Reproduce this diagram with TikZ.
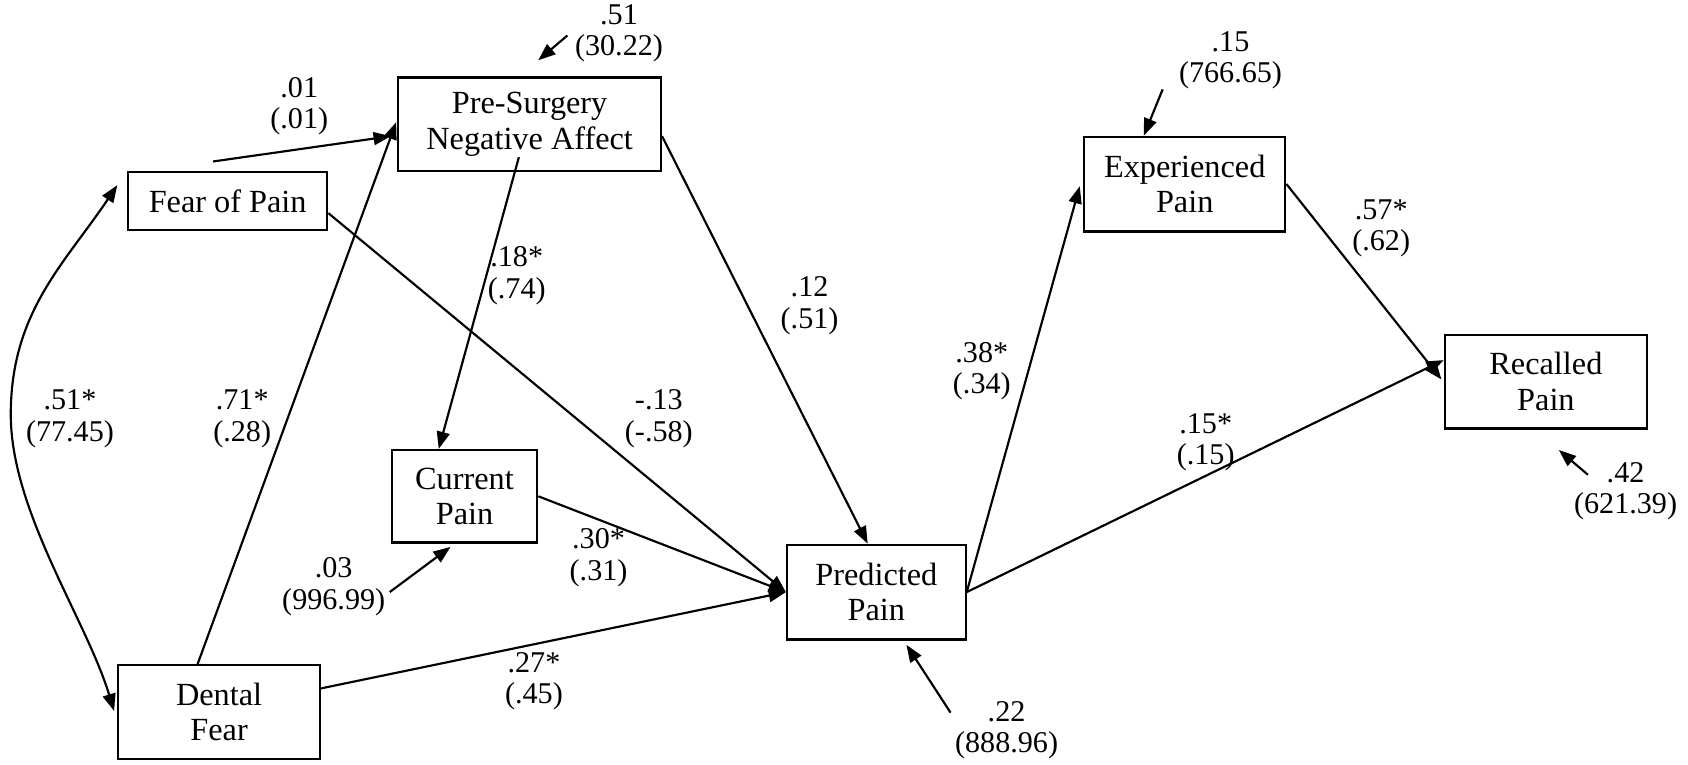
\documentclass[tikz,border=0pt]{standalone}
\usepackage{fontspec}
\setmainfont{Liberation Serif}
\usetikzlibrary{arrows.meta,calc}
\begin{document}
\begin{tikzpicture}[x=0.5pt,y=-0.5pt,
  box/.style={draw, line width=1pt, align=center, inner sep=0pt, font=\fontsize{15}{16.5}\selectfont},
  lab/.style={align=center, inner sep=0pt, font=\fontsize{14}{14.5}\selectfont},
  arr/.style={line width=1pt, -{Triangle[length=8pt,width=6pt]}},
  darr/.style={line width=1pt, {Triangle[length=8pt,width=6pt]}-{Triangle[length=8pt,width=6pt]}}]
\useasboundingbox (0,0) rectangle (1568,710);
% boxes
\node[box, minimum width=122pt, minimum height=43.5pt] (pre) at (492,115.5) {Pre-Surgery\\Negative Affect};
\node[box, minimum width=92.5pt, minimum height=27pt] (fear) at (211.5,187) {Fear of Pain};
\node[box, minimum width=67.5pt, minimum height=43pt] (cur) at (431.5,461) {Current\\Pain};
\node[box, minimum width=93.5pt, minimum height=43.5pt] (dental) at (203.5,661.5) {Dental\\Fear};
\node[box, minimum width=83pt, minimum height=44pt] (pred) at (814,550) {Predicted\\Pain};
\node[box, minimum width=93.5pt, minimum height=44pt] (exp) at (1100.5,171) {Experienced\\Pain};
\node[box, minimum width=94pt, minimum height=43.5pt] (rec) at (1436,354.5) {Recalled\\Pain};
% free coordinates
\coordinate (fstart) at (198,150);
\coordinate (e1s) at (527,33);
\coordinate (e1e) at (500,56);
\coordinate (e2s) at (362,550);
\coordinate (e3s) at (883,662);
\coordinate (e4s) at (1080,83);
\coordinate (e5s) at (1475,441);
\coordinate (e5e) at (1448,418);
\coordinate (cmid) at (10,385);
% path arrows
\draw[arr] (fstart) -- ($(pre.west)+(-6,11)$);
\draw[arr] ($(dental.north)+(-20,0)$) -- ($(pre.west)+(-1,-2)$);
\draw[arr] ($(pre.south)+(-10,-14)$) -- ($(cur.north)+(-24,0)$);
\draw[arr] ($(pre.east)+(0,11)$) -- ($(pred.north)+(-8,0)$);
\draw[arr] ($(fear.east)+(0,11)$) -- (pred.west);
\draw[arr] (cur.east) -- (pred.west);
\draw[arr] ($(dental.east)+(0,-22)$) -- (pred.west);
\draw[arr] (pred.east) -- ($(exp.west)+(-3,2)$);
\draw[arr] (pred.east) -- ($(rec.west)+(0,-20)$);
\draw[arr] (exp.east) -- ($(rec.west)+(-2,-2)$);
\draw[darr] ($(fear.west)+(-9,-15)$) .. controls (60,245) and (10,290) .. (cmid)
   .. controls (10,475) and (80,575) .. ($(dental.west)+(-3,-1)$);
% error arrows
\draw[arr] (e1s) -- (e1e);
\draw[arr] (e2s) -- ($(cur.south)+(-13,3)$);
\draw[arr] (e3s) -- ($(pred.south)+(28,4)$);
\draw[arr] (e4s) -- ($(exp.north)+(-38,0)$);
\draw[arr] (e5s) -- (e5e);
% labels
\node[lab] (l1) at (278,99) {.01\\(.01)};
\node[lab] (l2) at (65,389) {.51*\\(77.45)};
\node[lab] (l3) at (225,389) {.71*\\(.28)};
\node[lab] (l4) at (480,256) {.18*\\(.74)};
\node[lab] (l5) at (752,284) {.12\\(.51)};
\node[lab] (l6) at (612,389) {-.13\\(-.58)};
\node[lab] (l7) at (556,518) {.30*\\(.31)};
\node[lab] (l8) at (496,633) {.27*\\(.45)};
\node[lab] (l9) at (310,545) {.03\\(996.99)};
\node[lab] (l10) at (935,678) {.22\\(888.96)};
\node[lab] (l11) at (912,345) {.38*\\(.34)};
\node[lab] (l12) at (1120,411) {.15*\\(.15)};
\node[lab] (l13) at (1283,212) {.57*\\(.62)};
\node[lab] (l14) at (1143,56) {.15\\(766.65)};
\node[lab] (l15) at (575,31) {.51\\(30.22)};
\node[lab] (l16) at (1510,456) {.42\\(621.39)};
\end{tikzpicture}
\end{document}
